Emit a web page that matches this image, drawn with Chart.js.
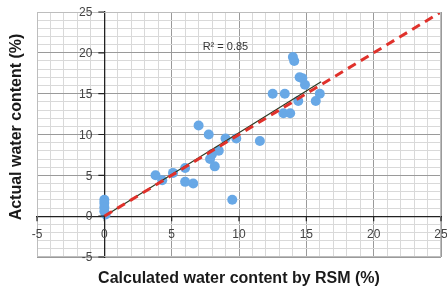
<!DOCTYPE html>
<html>
<head>
<meta charset="utf-8">
<script src="https://cdn.jsdelivr.net/npm/chart.js@4"></script>
<style>
html,body{margin:0;padding:0;background:#fff;}
#wrap{width:447px;height:293px;position:relative;}
</style>
</head>
<body>
<div id="wrap"><canvas id="c" width="447" height="293"></canvas></div>
<script>
// Data
const calculatedX = [0, 0, 0, 0, 0.1, 3.8, 4.3, 5.1, 6.0, 6.0, 6.6, 7.0, 7.75, 7.85, 8.2, 8.0, 8.5, 9.0, 9.8, 9.5, 11.55, 12.5, 13.4, 13.3, 13.8, 14.0, 14.1, 14.5, 14.7, 14.9, 14.4, 15.7, 16.0];
const actualY     = [2.0, 1.6, 1.1, 0.6, 0.2, 5.0, 4.4, 5.3, 5.9, 4.2, 4.0, 11.1, 10.0, 7.0, 6.1, 7.6, 8.0, 9.5, 9.5, 2.0, 9.2, 15.0, 15.0, 12.6, 12.6, 19.5, 19.0, 17.0, 16.9, 16.1, 14.1, 14.1, 15.0];
const trendX = [0, 16.1];
const trendY = [0, 16.45];
const identityX = [0, 25];
const identityY = [0, 25];
const axisRange = [-5, 25];
const majorStep = 5;
const rSquaredLabel = "R\u00B2 = 0.85";
const xTitle = "Calculated water content by RSM (%)";
const yTitle = "Actual water content (%)";

const toPts = (xs, ys) => xs.map((x, i) => ({x: x, y: ys[i]}));
const isMajor = v => Math.abs(Math.round(v)) % majorStep === 0;

const gridColor = c => {
  const v = c.tick ? c.tick.value : 0;
  if (v === 0) return 'rgba(0,0,0,0)';
  return isMajor(v) ? '#9a9a9a' : '#d9d9d9';
};

const textPlugin = {
  id: 'texts',
  afterDraw(chart) {
    const ctx = chart.ctx;
    const ca = chart.chartArea;
    const xs = chart.scales.x, ys = chart.scales.y;
    ctx.save();
    ctx.strokeStyle = '#bdbdbd';
    ctx.lineWidth = 1;
    ctx.strokeRect(ca.left + 0.5, ca.top + 0.5, ca.right - ca.left - 1, ca.bottom - ca.top - 1);

    const y0 = ys.getPixelForValue(0), x0 = xs.getPixelForValue(0);
    // major tick marks on the crossing axes
    ctx.strokeStyle = '#222';
    ctx.lineWidth = 1.2;
    ctx.beginPath();
    xs.ticks.forEach(t => {
      if (isMajor(t.value)) { const px = xs.getPixelForValue(t.value); ctx.moveTo(px, y0); ctx.lineTo(px, y0 + 5); }
    });
    ys.ticks.forEach(t => {
      if (isMajor(t.value)) { const py = ys.getPixelForValue(t.value); ctx.moveTo(x0 - 6, py); ctx.lineTo(x0, py); }
    });
    ctx.stroke();

    // tick labels from the library's scales
    ctx.fillStyle = '#444';
    ctx.font = '12px "Liberation Sans", Arial, sans-serif';
    ctx.textBaseline = 'middle';
    ctx.textAlign = 'center';
    xs.ticks.forEach(t => {
      if (isMajor(t.value)) ctx.fillText(String(t.value), xs.getPixelForValue(t.value), y0 + 19);
    });
    ctx.textAlign = 'right';
    ys.ticks.forEach(t => {
      if (isMajor(t.value)) ctx.fillText(String(t.value), x0 - 12, ys.getPixelForValue(t.value) + 1);
    });

    ctx.fillStyle = '#333';
    ctx.font = '11px "Liberation Sans", Arial, sans-serif';
    ctx.textAlign = 'left';
    ctx.fillText(rSquaredLabel, xs.getPixelForValue(7.3), ys.getPixelForValue(20.7));

    ctx.fillStyle = '#1a1a1a';
    ctx.font = 'bold 16px "Liberation Sans", Arial, sans-serif';
    ctx.textAlign = 'center';
    ctx.fillText(xTitle, (ca.left + ca.right) / 2, 279);
    ctx.translate(17, 127);
    ctx.rotate(-Math.PI / 2);
    ctx.fillText(yTitle, 0, 0);
    ctx.restore();
  }
};

new Chart(document.getElementById('c'), {
  type: 'scatter',
  data: {
    datasets: [
      {
        type: 'line',
        data: toPts(identityX, identityY),
        borderColor: '#e0312b',
        borderWidth: 3,
        borderDash: [9, 6],
        pointRadius: 0,
        fill: false,
        order: 0
      },
      {
        type: 'line',
        data: toPts(trendX, trendY),
        borderColor: '#2c3a22',
        borderWidth: 1.2,
        pointRadius: 0,
        fill: false,
        order: 1
      },
      {
        data: toPts(calculatedX, actualY),
        backgroundColor: '#68a8e6',
        borderColor: '#68a8e6',
        borderWidth: 0,
        pointRadius: 5,
        order: 2
      }
    ]
  },
  options: {
    responsive: false,
    animation: false,
    events: [],
    layout: { padding: { left: 37, top: 12, right: 6, bottom: 36 } },
    plugins: { legend: { display: false }, tooltip: { enabled: false } },
    scales: {
      x: {
        type: 'linear',
        position: { y: 0 },
        min: axisRange[0], max: axisRange[1],
        ticks: { stepSize: 1, autoSkip: false, maxRotation: 0, display: false },
        grid: { color: gridColor, drawTicks: false, lineWidth: 1 },
        border: { display: true, color: '#222', width: 1.3 }
      },
      y: {
        type: 'linear',
        position: { x: 0 },
        min: axisRange[0], max: axisRange[1],
        ticks: { stepSize: 1, autoSkip: false, display: false },
        grid: { color: gridColor, drawTicks: false, lineWidth: 1 },
        border: { display: true, color: '#222', width: 1.3 }
      }
    }
  },
  plugins: [textPlugin]
});
</script>
</body>
</html>
